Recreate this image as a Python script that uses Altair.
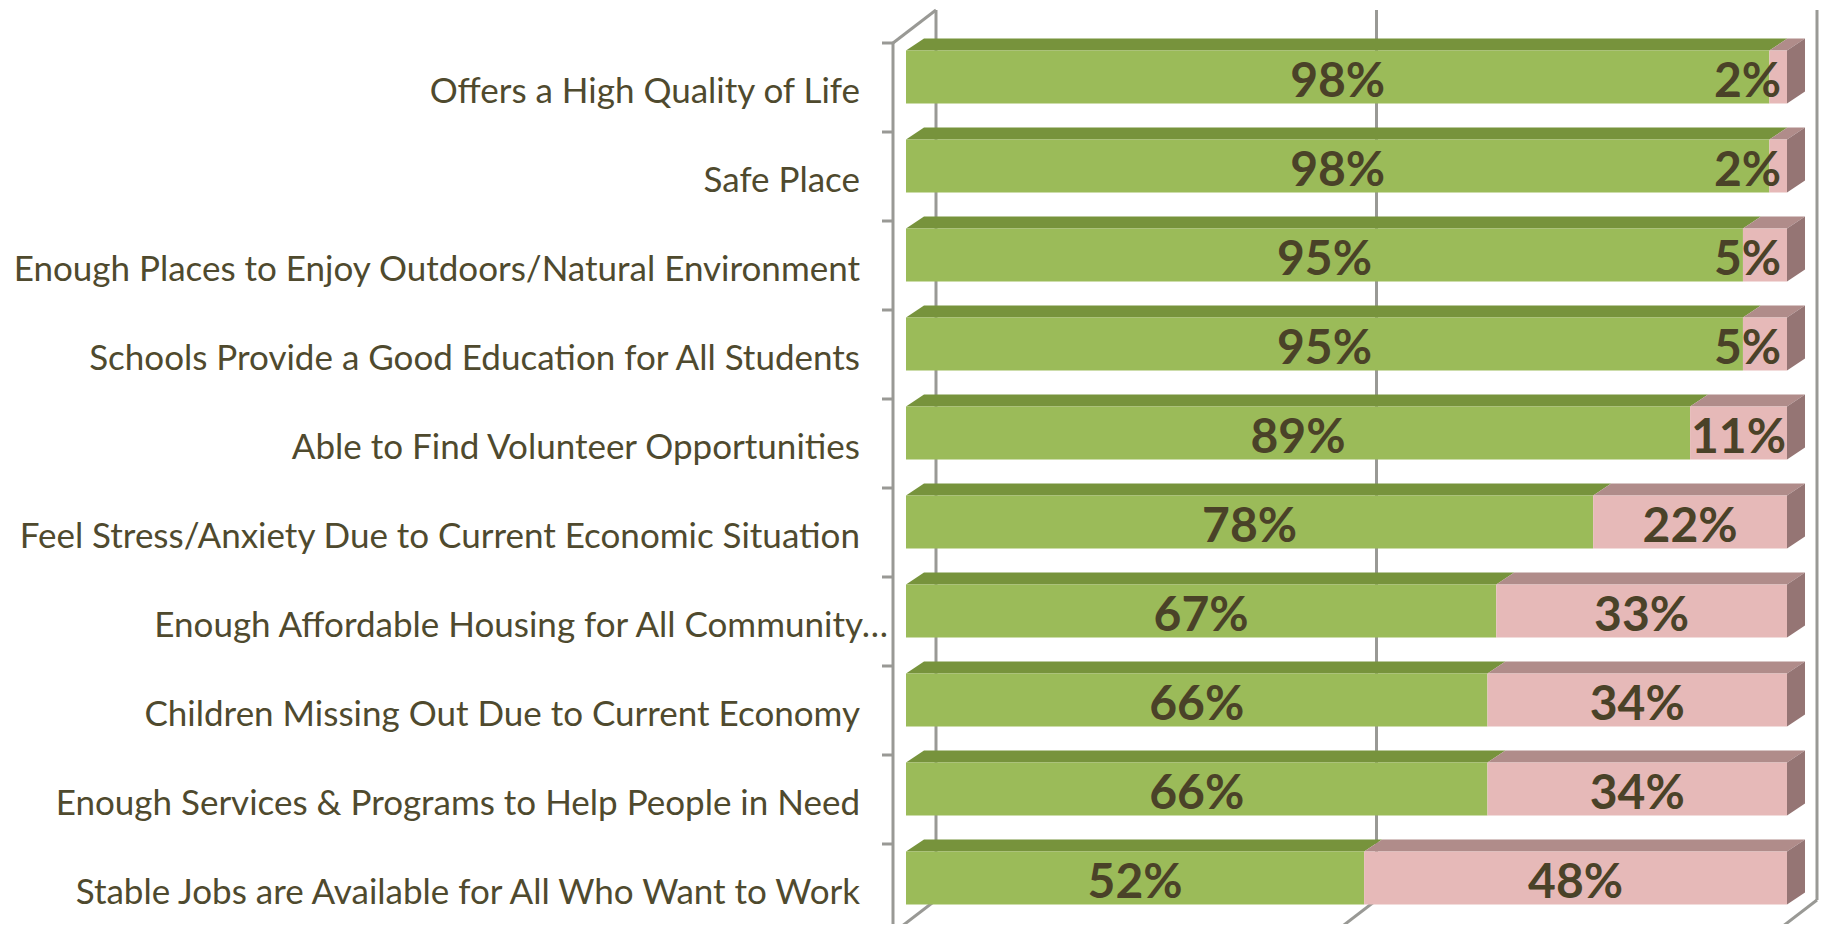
import altair as alt
import pandas as pd

categories = [
    "Offers a High Quality of Life",
    "Safe Place",
    "Enough Places to Enjoy Outdoors/Natural Environment",
    "Schools Provide a Good Education for All Students",
    "Able to Find Volunteer Opportunities",
    "Feel Stress/Anxiety Due to Current Economic Situation",
    "Enough Affordable Housing for All Community…",
    "Children Missing Out Due to Current Economy",
    "Enough Services & Programs to Help People in Need",
    "Stable Jobs are Available for All Who Want to Work",
]
agree = [98, 98, 95, 95, 89, 78, 67, 66, 66, 52]
disagree = [2, 2, 5, 5, 11, 22, 33, 34, 34, 48]
gridlines = [0, 50, 100]

# ---------------- geometry (pixel based, converted to data units) -------------
W, H = 1812, 916
PX_X = 8.81      # pixels per percent
X0 = 898         # pixel of 0 % on bar front face
PX_Y = 89.0      # pixels per category row
Y0 = 69          # pixel of first row centre


def px_x(p):
    return (p - X0) / PX_X


def px_y(p):
    return (p - Y0) / PX_Y


half = 26.5 / PX_Y
dx = 18 / PX_X
dy = 12 / PX_Y
back_dx = 30 / PX_X
wall_x = px_x(885)
tick_x = px_x(874)
top_front, top_back = px_y(35), px_y(2)
bot_back, bot_front = px_y(892), px_y(925)
label_right = px_x(852)
label_right_trunc = px_x(880)
label_dy = 26 / PX_Y
value_dy = 20 / PX_Y
pink_cap = 100 - (8 + 31.5) / PX_X

x_scale = alt.Scale(domain=[px_x(0), px_x(W)], nice=False, zero=False)
y_scale = alt.Scale(domain=[px_y(0), px_y(H)], nice=False, zero=False, reverse=True)

# ---------------- tables -------------
front, top, side, vals, labs = [], [], [], [], []
for i, (c, a, d) in enumerate(zip(categories, agree, disagree)):
    segs = [("agree", 0, a), ("disagree", a, a + d)]
    for name, s, e in segs:
        front.append(dict(x=s, x2=e, y=i - half, y2=i + half, face=name))
        gid = f"{i}-{name}"
        top.append(dict(g=gid, y=i - half, x=s, x2=e, face=name + "_top"))
        top.append(dict(g=gid, y=i - half - dy, x=s + dx, x2=e + dx, face=name + "_top"))
    end = a + d
    side.append(dict(g=i, x=end, y=i - half, y2=i + half, face="side"))
    side.append(dict(g=i, x=end + dx, y=i - half - dy, y2=i + half - dy, face="side"))
    vals.append(dict(x=a / 2, y=i + value_dy, t=f"{a}%"))
    vals.append(dict(x=min((a + end) / 2, pink_cap), y=i + value_dy, t=f"{d}%"))
    labs.append(dict(x=label_right_trunc if c.endswith("…") else label_right,
                     y=i + label_dy, t=c))

lines = []
for g in gridlines:
    lines.append(dict(x=g + back_dx, y=top_back, x2=g + back_dx, y2=bot_back))
    lines.append(dict(x=g + back_dx, y=bot_back, x2=g + wall_x, y2=bot_front))
lines.append(dict(x=wall_x, y=top_front, x2=wall_x, y2=bot_front))
lines.append(dict(x=wall_x, y=top_front, x2=back_dx, y2=top_back))
for k in range(len(categories) + 1):
    lines.append(dict(x=tick_x, y=top_front + k, x2=wall_x, y2=top_front + k))

front_df = pd.DataFrame(front)
top_df = pd.DataFrame(top)
side_df = pd.DataFrame(side)
vals_df = pd.DataFrame(vals)
labs_df = pd.DataFrame(labs)
lines_df = pd.DataFrame(lines)

color = alt.Color(
    "face:N",
    scale=alt.Scale(
        domain=["agree", "disagree", "agree_top", "disagree_top", "side"],
        range=["#9BBB59", "#E6B9B8", "#77933C", "#B08C8A", "#957574"],
    ),
    legend=None,
)

X = lambda f: alt.X(f, type="quantitative", scale=x_scale, axis=None)
Y = lambda f: alt.Y(f, type="quantitative", scale=y_scale, axis=None)

walls = alt.Chart(lines_df).mark_rule(color="#999995", strokeWidth=3).encode(
    x=X("x"), y=Y("y"), x2="x2", y2="y2"
)
tops = alt.Chart(top_df).mark_area(orient="horizontal", strokeWidth=0).encode(
    y=Y("y"), x=X("x"), x2="x2", detail="g:N", color=color
)
sides = alt.Chart(side_df).mark_area(orient="vertical", strokeWidth=0).encode(
    x=X("x"), y=Y("y"), y2="y2", detail="g:N", color=color
)
fronts = alt.Chart(front_df).mark_rect().encode(
    x=X("x"), x2="x2", y=Y("y"), y2="y2", color=color
)
values = alt.Chart(vals_df).mark_text(
    font="Lato", fontSize=48, fontWeight="bold", color="#4A4228",
    align="center", baseline="alphabetic"
).encode(x=X("x"), y=Y("y"), text="t:N")
cat_labels = alt.Chart(labs_df).mark_text(
    font="Lato", fontSize=35, color="#4F4A2E", align="right", baseline="alphabetic"
).encode(x=X("x"), y=Y("y"), text="t:N")

chart = alt.layer(walls, tops, sides, fronts, values, cat_labels).properties(
    width=W, height=H, padding=0, autosize=alt.AutoSizeParams(type="none")
).configure_view(stroke=None)

chart.save("out.html", embed_options={"renderer": "svg", "actions": False})
